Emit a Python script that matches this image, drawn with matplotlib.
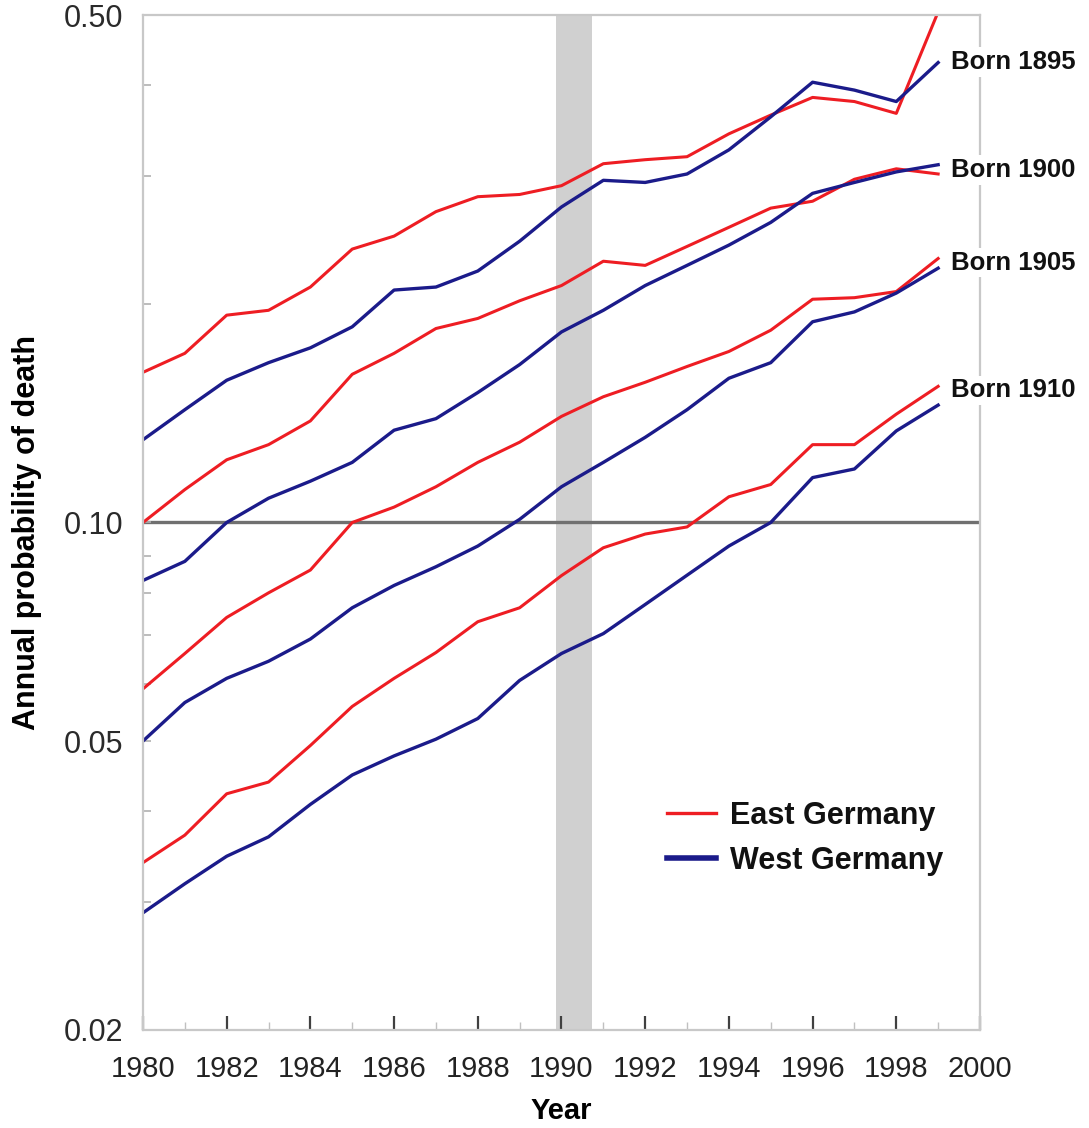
#! /usr/bin/env python
#  Annual probability of death by cohort, East vs West Germany, 1980-1999

import matplotlib
matplotlib.use("Agg")
import matplotlib.pyplot as plt
from matplotlib.ticker import FixedLocator, NullFormatter

plt.rcParams['font.family'] = ['Liberation Sans', 'DejaVu Sans']

years = list(range(1980, 2000))
cohorts = ["Born 1895", "Born 1900", "Born 1905", "Born 1910"]

east_1895 = [0.161, 0.171, 0.193, 0.196, 0.211, 0.238, 0.248, 0.268, 0.281, 0.283,
             0.291, 0.312, 0.316, 0.319, 0.343, 0.364, 0.385, 0.380, 0.366, 0.505]
west_1895 = [0.130, 0.143, 0.157, 0.166, 0.174, 0.186, 0.209, 0.211, 0.222, 0.244,
             0.272, 0.296, 0.294, 0.302, 0.326, 0.362, 0.404, 0.394, 0.380, 0.430]
east_1900 = [0.100, 0.111, 0.122, 0.128, 0.138, 0.160, 0.171, 0.185, 0.191, 0.202,
             0.212, 0.229, 0.226, 0.240, 0.255, 0.271, 0.277, 0.297, 0.307, 0.302]
west_1900 = [0.0832, 0.0884, 0.100, 0.108, 0.114, 0.121, 0.134, 0.139, 0.151, 0.165,
             0.183, 0.196, 0.212, 0.226, 0.241, 0.259, 0.284, 0.294, 0.304, 0.311]
east_1905 = [0.059, 0.066, 0.074, 0.080, 0.086, 0.100, 0.105, 0.112, 0.121, 0.129,
             0.140, 0.149, 0.156, 0.164, 0.172, 0.184, 0.203, 0.204, 0.208, 0.231]
west_1905 = [0.050, 0.0565, 0.061, 0.0644, 0.0691, 0.0763, 0.0819, 0.0869, 0.0928, 0.101,
             0.112, 0.121, 0.131, 0.143, 0.158, 0.166, 0.189, 0.195, 0.207, 0.224]
east_1910 = [0.034, 0.0371, 0.0423, 0.0439, 0.0493, 0.0558, 0.061, 0.0662, 0.073, 0.0763,
             0.0845, 0.0923, 0.0964, 0.0986, 0.1085, 0.1128, 0.128, 0.128, 0.141, 0.154]
west_1910 = [0.029, 0.0318, 0.0347, 0.0369, 0.0409, 0.0449, 0.0477, 0.0503, 0.0537, 0.0606,
             0.066, 0.0703, 0.0771, 0.0846, 0.0928, 0.100, 0.1153, 0.1185, 0.1337, 0.1451]

east = [east_1895, east_1900, east_1905, east_1910]
west = [west_1895, west_1900, west_1905, west_1910]

# reunification period shaded
reunification = (1989.87, 1990.73)

y_major = [0.02, 0.05, 0.10, 0.50]
y_major_labels = ["0.02", "0.05", "0.10", "0.50"]
y_minor = [0.03, 0.04, 0.06, 0.07, 0.08, 0.09, 0.2, 0.3, 0.4]

red = "#ee1d23"
blue = "#1b1b8a"

fig = plt.figure(figsize=(10.89, 11.28), dpi=100)
ax = fig.add_axes([0.1313, 0.0869, 0.7686, 0.8998])

ax.axvspan(reunification[0], reunification[1], color="#d0d0d0", lw=0, zorder=0)
ax.axhline(0.10, color="#707070", lw=2.4, zorder=1)

for e, w in zip(east, west):
    ax.plot(years, e, color=red, lw=2.2, zorder=2, solid_joinstyle="round")
    ax.plot(years, w, color=blue, lw=2.4, zorder=2, solid_joinstyle="round")

label_y = [0.431, 0.306, 0.228, 0.152]
for name, yv in zip(cohorts, label_y):
    ax.text(1999.3, yv, name, fontsize=18.5, fontweight="bold", color="#111111",
            va="center", ha="left", clip_on=False, zorder=5,
            bbox=dict(facecolor="white", edgecolor="none", pad=2))

ax.set_yscale("log")
ax.set_xlim(1980, 2000)
ax.set_ylim(0.02, 0.50)

ax.yaxis.set_major_locator(FixedLocator(y_major))
ax.set_yticklabels(y_major_labels)
ax.yaxis.set_minor_locator(FixedLocator(y_minor))
ax.yaxis.set_minor_formatter(NullFormatter())
ax.set_xticks(range(1980, 2001, 2))
ax.set_xticks(range(1981, 2000, 2), minor=True)

ax.tick_params(axis="y", which="both", direction="in", length=6, width=1.2,
               color="#b0b0b0", labelsize=22, labelcolor="#2a2a2a", pad=14)
ax.tick_params(axis="x", which="major", direction="in", length=10, width=1.6,
               color="#404040", labelsize=21, labelcolor="#222222", pad=18)
ax.tick_params(axis="x", which="minor", direction="in", length=6, width=1.0,
               color="#c0c0c0")
ax.tick_params(right=False, top=False)

for s in ax.spines.values():
    s.set_color("#c8c8c8")
    s.set_linewidth(1.6)

ax.set_ylabel("Annual probability of death", fontsize=22, fontweight="bold")
ax.yaxis.set_label_coords(-0.121, 0.49)
ax.set_xlabel("Year", fontsize=21, fontweight="bold")
ax.xaxis.set_label_coords(0.5, -0.066)

h1, = ax.plot([], [], color=red, lw=2.4)
h2, = ax.plot([], [], color=blue, lw=4)
leg = ax.legend([h1, h2], ["East Germany", "West Germany"], loc="center left",
                bbox_to_anchor=(0.626, 0.189), frameon=False, borderpad=0,
                borderaxespad=0, handlelength=1.6, handletextpad=0.45,
                labelspacing=0.5, prop=dict(size=22, weight="bold"))
for t in leg.get_texts():
    t.set_color("#111111")

plt.savefig("out.png", dpi=100, facecolor="white")
